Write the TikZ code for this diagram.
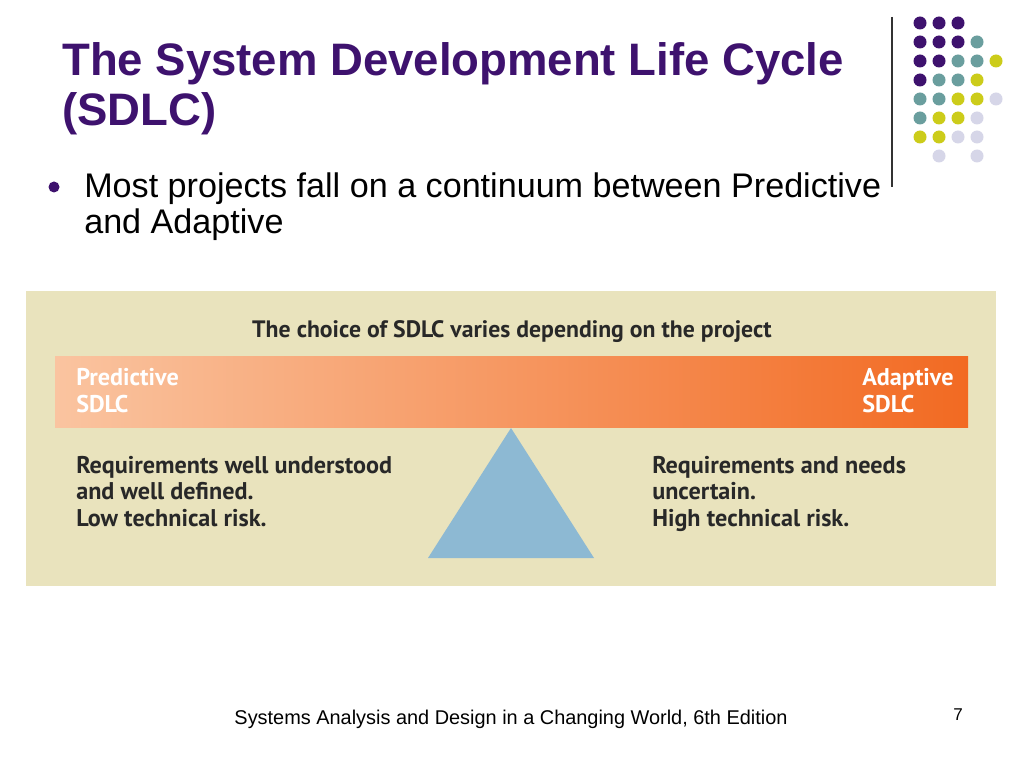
\documentclass[tikz,border=0pt]{standalone}
\usepackage{fontspec}
\setmainfont{Liberation Sans}
\newfontfamily\figfont{PT Sans}
\usetikzlibrary{calc,positioning}

\definecolor{slidepurple}{RGB}{62,18,110}
\definecolor{dotteal}{RGB}{106,158,158}
\definecolor{dotyellow}{RGB}{204,204,26}
\definecolor{dotlilac}{RGB}{214,214,232}
\definecolor{figbeige}{RGB}{233,227,189}
\definecolor{figblue}{RGB}{141,185,211}
\definecolor{figtext}{RGB}{40,40,40}
\definecolor{barlight}{RGB}{250,196,160}
\definecolor{bardark}{RGB}{242,106,34}

\tikzset{
  titletext/.style={font=\fontsize{32}{35.2}\selectfont\bfseries, text=slidepurple, align=left, inner sep=0pt},
  bullettext/.style={font=\fontsize{24}{26}\selectfont, align=left, inner sep=0pt},
  figlabel/.style={font=\figfont\fontsize{17}{18.5}\selectfont\bfseries, text=figtext, align=left, inner sep=0pt},
  barlabel/.style={figlabel, text=white},
  footer/.style={font=\fontsize{14}{16}\selectfont, inner sep=0pt}
}

\begin{document}
\begin{tikzpicture}[x=0.703125pt,y=-0.703125pt]
    \pgfmathsetmacro{\dx}{19}
    \pgfmathsetmacro{\rd}{6.5}
    \useasboundingbox[fill=white] (0,0) rectangle (1024,768);

    % title and bullet (base = last line)
    \node[titletext, anchor=base west] (title) at (62,126) {The System Development Life Cycle\\(SDLC)};
    \coordinate (bullet) at (54,187);
    \fill[slidepurple] (bullet) circle[radius=5.5];
    \node[bullettext, anchor=base west] (point) at (84,234) {Most projects fall on a continuum between Predictive\\and Adaptive};

    % dots
    \coordinate (D) at (920,23);
    \draw[black!80, line width=1.2pt] (892,17) -- (892,187);
    \foreach \c/\r in {0/0,1/0,2/0,0/1,1/1,2/1,0/2,1/2,0/3}
      \fill[slidepurple] ($(D)+(\c*\dx,\r*\dx)$) circle[radius=\rd];
    \foreach \c/\r in {3/1,2/2,3/2,1/3,2/3,0/4,1/4,0/5}
      \fill[dotteal] ($(D)+(\c*\dx,\r*\dx)$) circle[radius=\rd];
    \foreach \c/\r in {4/2,3/3,2/4,3/4,1/5,2/5,0/6,1/6}
      \fill[dotyellow] ($(D)+(\c*\dx,\r*\dx)$) circle[radius=\rd];
    \foreach \c/\r in {4/4,3/5,2/6,3/6,1/7,3/7}
      \fill[dotlilac] ($(D)+(\c*\dx,\r*\dx)$) circle[radius=\rd];

    % figure
    \fill[figbeige] (26,291) rectangle (996,586);
    \shade[left color=barlight, right color=bardark] (55,356) rectangle (968,427);
    \coordinate (apex) at (511,428);
    \fill[figblue] (apex) -- ++(83,130) -- ++(-166,0) -- cycle;

    \node[figlabel, font=\figfont\fontsize{16.7}{18.5}\selectfont\bfseries, anchor=base] (choice) at (512,337) {The choice of SDLC varies depending on the project};
    \node[barlabel, anchor=base west] (pred) at (76,412) {Predictive\\SDLC};
    \node[barlabel, anchor=base west] (adapt) at (862,412) {Adaptive\\SDLC};
    \node[figlabel, anchor=base west] (low) at (76,526) {Requirements well understood\\and well defined.\\Low technical risk.};
    \node[figlabel, anchor=base west] (high) at (652,526) {Requirements and needs\\uncertain.\\High technical risk.};

    % footer
    \node[footer, anchor=base] (book) at (511,724) {Systems Analysis and Design in a Changing World, 6th Edition};
    \node[footer, font=\fontsize{12}{14}\selectfont, anchor=base] (page) at (958,720) {7};
\end{tikzpicture}
\end{document}
